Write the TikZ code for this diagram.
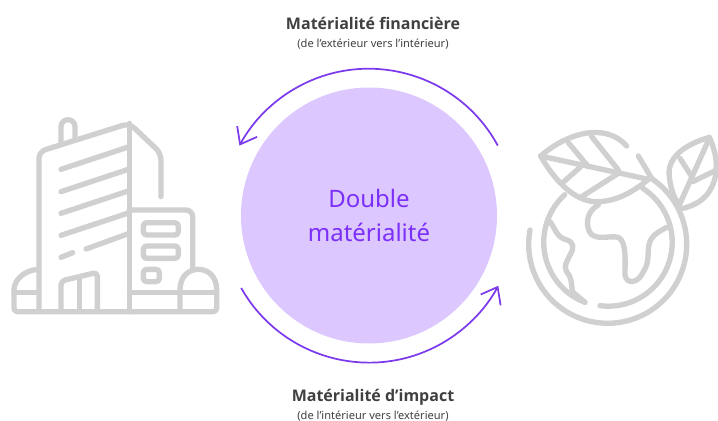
\documentclass[tikz,border=0pt]{standalone}
\usepackage{fontspec}
\setmainfont{Noto Sans}
\newfontfamily\headfont{Open Sans}
\usepackage{xcolor}
\usetikzlibrary{arrows.meta, positioning}
\definecolor{violetFill}{HTML}{DCC8FF}
\definecolor{violetLine}{HTML}{7C3AED}
\definecolor{violetText}{HTML}{7B2FF7}
\definecolor{iconGray}{HTML}{D0D0D0}
\definecolor{labelGray}{HTML}{404040}
\tikzset{
    core/.style={
        circle,
        fill=violetFill,
        minimum size=192pt,
        inner sep=0pt,
        text=violetText,
        align=center,
        font=\fontsize{18}{25}\selectfont
    },
    flow/.style={
        draw=violetLine,
        line width=1.3pt,
        -{Straight Barb[length=11pt,width=17pt,line width=1.3pt]}
    },
    heading/.style={
        text=labelGray,
        inner sep=0pt,
        text depth=0pt,
        font=\headfont\fontsize{12}{14}\selectfont\bfseries
    },
    subheading/.style={
        text=labelGray,
        inner sep=0pt,
        font=\fontsize{8.3}{10}\selectfont
    },
    icon/.style={
        draw=iconGray,
        line width=4pt,
        line cap=round,
        line join=round
    }
}

\begin{document}
\begin{tikzpicture}[x=0.75pt,y=-0.75pt]
\useasboundingbox (0,0) rectangle (718,421);

% Centre
\node[core] (centre) at (369,215.5) {Double\\matérialité};

% Flows
\coordinate (finStart) at (497.8,145.6);
\coordinate (impStart) at (241.2,288);
\draw[flow] (finStart) arc[start angle=-28.5, end angle=-151.5, radius=147];
\draw[flow] (impStart) arc[start angle=150.5, end angle=28.5, radius=147];

% Labels
\node[heading] (fin) at (373,23) {Matérialité financière};
\node[subheading, below=7.2pt of fin] (finsub) {(de l’extérieur vers l’intérieur)};
\node[heading] (imp) at (373,395) {Matérialité d’impact};
\node[subheading, below=6.8pt of imp] (impsub) {(de l’intérieur vers l’extérieur)};

% Building
\begin{scope}[shift={(0,100)},x=0.25pt,y=-0.25pt,icon]
\draw[rounded corners=5pt] (117,630) -- (117,155) -- (388,70) -- (483,160) -- (483,290);
\draw (388,70) -- (388,635);
\draw (183,130) -- (183,80) arc[start angle=180, end angle=360, radius=21] -- (225,115);
\draw (183,208) -- (388,140);
\draw (183,275) -- (388,207);
\draw (183,340) -- (388,272);
\draw (183,406) -- (388,338);
\draw (258,447) -- (388,400);
\draw (183,472) -- (218,458);
\draw[rounded corners=5pt] (388,330) -- (578,330) -- (578,505);
\draw[rounded corners=2.5pt] (430,368) rectangle (535,405);
\draw[rounded corners=2.5pt] (430,438) rectangle (535,475);
\draw[rounded corners=2.5pt] (430,508) rectangle (478,545);
\draw[rounded corners=3pt] (183,630) -- (183,543) -- (292,517) -- (292,630);
\draw (238,535) -- (238,630);
\draw[rounded corners=2.5pt] (117,508) .. controls (72,510) and (42,540) .. (42,580) -- (42,635) -- (650,635) -- (650,570);
\draw (650,570) .. controls (650,530) and (625,508) .. (595,508) .. controls (565,508) and (540,530) .. (540,570) -- (540,630);
\draw (42,578) -- (117,578);
\draw (388,578) -- (650,578);
\end{scope}

% Globe
\begin{scope}[shift={(510,120)},x=0.25pt,y=-0.25pt,icon]
\draw (60,330) arc[start angle=190.4, end angle=-56.7, radius=237];
\draw (270,557) arc[start angle=97.4, end angle=-57.4, radius=192];
\draw (225,547) arc[start angle=111, end angle=227.7, radius=193];
% big leaf
\draw (92,108) .. controls (170,40) and (285,5) .. (350,78);
\draw (385,108) -- (425,175);
\draw (92,108) .. controls (130,175) and (190,245) .. (260,245) .. controls (320,245) and (370,215) .. (415,178);
\draw (92,108) -- (415,178);
\draw (175,68) -- (235,140);
\draw (210,142) -- (158,188);
\draw (245,50) -- (325,150);
\draw (325,160) -- (215,230);
% small leaf
\draw (598,52) .. controls (520,75) and (470,115) .. (478,170) .. controls (482,210) and (495,240) .. (510,258);
\draw (598,52) .. controls (625,110) and (630,175) .. (590,225) .. controls (570,248) and (545,258) .. (520,265);
\draw (598,55) -- (510,250);
\draw (510,115) -- (542,165);
\draw (620,150) -- (548,185);
% continents
\draw (265,255) .. controls (235,270) and (225,305) .. (238,335) .. controls (255,365) and (300,345) .. (325,352) .. controls (350,365) and (345,420) .. (345,465) .. controls (350,495) and (385,490) .. (400,455) .. controls (425,420) and (405,385) .. (425,355) .. controls (435,340) and (455,330) .. (470,322);
\draw (120,305) .. controls (135,325) and (140,350) .. (165,358) .. controls (195,365) and (192,385) .. (180,405) .. controls (170,425) and (160,440) .. (170,455) .. controls (185,470) and (185,495) .. (187,515) -- (225,547);
\end{scope}

\end{tikzpicture}
\end{document}
